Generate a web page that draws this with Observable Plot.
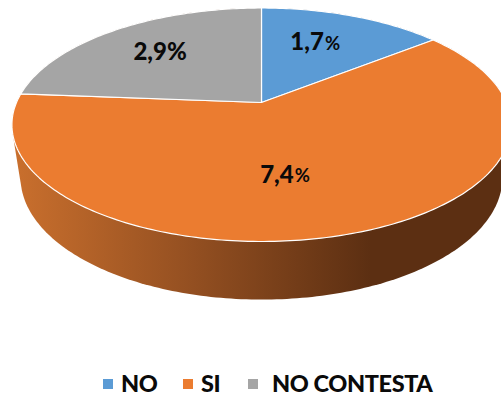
<!DOCTYPE html>
<html>
<head>
<meta charset="utf-8">
<script src="https://cdn.jsdelivr.net/npm/d3@7"></script>
<script src="https://cdn.jsdelivr.net/npm/@observablehq/plot@0.6"></script>
<style>
  html, body { margin: 0; padding: 0; background: #fff; overflow: hidden; }
  #wrap { position: relative; width: 501px; height: 399px; font-family: Lato, sans-serif; }
  svg { display: block; }
  .legend { position: relative; height: 39px; font-weight: 900; font-size: 23.5px; letter-spacing: -0.4px; color: #0a0a0a; line-height: 1; }
  .legend i { position: absolute; top: 19px; width: 10px; height: 10px; }
  .legend span { position: absolute; top: 12px; white-space: nowrap; }
</style>
</head>
<body>
<div id="wrap"></div>
<script>
// Data
const categories = ["NO", "SI", "NO CONTESTA"];
const values = [1.72, 7.43, 2.85];
const valueLabels = ["1,7", "7,4", "2,9"];
const percentIsBold = [false, false, true];
const colors = ["#5b9bd5", "#eb7c30", "#a5a5a5"];

// Layout of the tilted pie (perspective projection of a unit disc)
const W = 501, H = 360;
const tilt = 0.1906;
const topDisc = {cx: 261, cy: 102, a: 245, b: 112.5};
const baseDisc = {cx: 261, cy: 153.8, a: 236.5, b: 117.6};
const project = (d, r, t) => {
  const u = r * Math.sin(t), v = r * Math.cos(t), k = 1 + tilt * v;
  return [d.cx + d.a * u / k, d.cy - d.b * v / k];
};
const rad = deg => deg * Math.PI / 180;

// Slices from the values
const arcs = d3.pie().sort(null).value(d => d)(values);
const slices = arcs.flatMap((arc, i) => {
  const n = Math.max(2, Math.ceil((arc.endAngle - arc.startAngle) / rad(1)));
  const rim = d3.range(n + 1).map(j => project(topDisc, 1, arc.startAngle + (arc.endAngle - arc.startAngle) * j / n));
  return [[topDisc.cx, topDisc.cy], ...rim].map(([x, y]) => ({slice: categories[i], x, y}));
});

// Wall: hull of the top and base rims
const circle = d3.range(0, 360, 1).map(rad);
const wall = d3.polygonHull([...circle.map(t => project(topDisc, 1, t)), ...circle.map(t => project(baseDisc, 1, t))])
  .map(([x, y]) => ({x, y}));

// Label anchors in disc coordinates
const labelAngle = [23, 171, 317];
const labelRadius = [0.644, 0.585, 0.664];
const labels = values.map((v, i) => {
  const [x, y] = project(topDisc, labelRadius[i], rad(labelAngle[i]));
  return {x, y, number: valueLabels[i], bold: percentIsBold[i]};
});

const gradient = () => {
  const defs = d3.create("svg:defs");
  const g = defs.append("linearGradient").attr("id", "wallFill")
    .attr("gradientUnits", "userSpaceOnUse")
    .attr("x1", 15).attr("x2", 370).attr("y1", 0).attr("y2", 0);
  g.append("stop").attr("offset", "0%").attr("stop-color", "#c96f2d");
  g.append("stop").attr("offset", "50%").attr("stop-color", "#934f21");
  g.append("stop").attr("offset", "100%").attr("stop-color", "#5c2f12");
  return defs.node();
};

const labelFont = {fontFamily: "Lato, sans-serif", fontWeight: 900, fill: "#0a0a0a"};

const chart = Plot.plot({
  width: W, height: H,
  margin: 0,
  x: {domain: [0, W], range: [0, W], axis: null},
  y: {domain: [0, H], range: [0, H], axis: null},
  color: {domain: categories, range: colors},
  style: {background: "transparent", overflow: "hidden"},
  marks: [
    gradient,
    Plot.line(wall, {x: "x", y: "y", fill: "url(#wallFill)", stroke: "none", curve: "linear-closed"}),
    Plot.line(slices, {x: "x", y: "y", z: "slice", fill: "slice", stroke: "#fff", strokeWidth: 1.2, strokeLinejoin: "round", curve: "linear-closed"}),
    Plot.text(labels, {x: "x", y: "y", text: "number", textAnchor: "end", dx: 7, fontSize: 24, ...labelFont}),
    Plot.text(labels.filter(d => !d.bold), {x: "x", y: "y", text: () => "%", textAnchor: "start", dx: 8, dy: 1, fontSize: 18.5, ...labelFont, fontWeight: 700}),
    Plot.text(labels.filter(d => d.bold), {x: "x", y: "y", text: () => "%", textAnchor: "start", dx: 7, fontSize: 24, ...labelFont})
  ]
});

const wrap = document.getElementById("wrap");
wrap.appendChild(chart);
const legend = document.createElement("div");
legend.className = "legend";
const swatchLeft = [103, 183, 248];
const textLeft = [121, 201, 272];
categories.forEach((c, i) => {
  const sw = document.createElement("i");
  sw.style.background = colors[i];
  sw.style.left = swatchLeft[i] + "px";
  const t = document.createElement("span");
  t.textContent = c;
  t.style.left = textLeft[i] + "px";
  legend.append(sw, t);
});
wrap.appendChild(legend);
</script>
</body>
</html>
